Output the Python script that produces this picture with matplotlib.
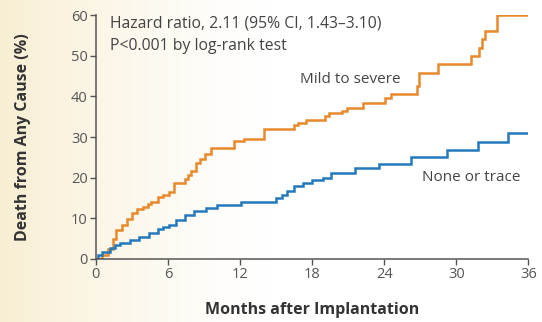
import numpy as np
import matplotlib
matplotlib.use("Agg")
from matplotlib import pyplot as plt

# Kaplan-Meier style cumulative death (%)
months_severe = [0, 0.5, 1.0, 1.4, 1.7, 2.2, 2.6, 3.0, 3.4, 3.9, 4.3, 4.6, 5.2, 5.6, 6.05, 6.5,
                 7.4, 7.7, 7.95, 8.35, 8.7, 9.05, 9.6, 11.5, 12.3, 14.0, 16.5, 16.8, 17.5,
                 19.1, 19.4, 20.5, 20.9, 22.2, 24.1, 24.6, 26.7, 26.9, 28.5, 31.2, 31.9,
                 32.1, 32.4, 33.4]
death_severe = [0, 1.0, 2.5, 5.0, 7.2, 8.4, 9.8, 11.3, 12.2, 12.8, 13.6, 14.1, 15.3, 15.7,
                16.5, 18.7, 19.6, 20.6, 21.6, 23.7, 24.6, 25.7, 27.4, 29.0, 29.4, 31.9,
                33.0, 33.5, 34.3, 35.1, 36.0, 36.4, 37.2, 38.4, 39.7, 40.7, 42.5, 45.8,
                47.9, 50.0, 52.0, 54.1, 56.1, 60.0]

months_none = [0, 0.2, 0.5, 1.15, 1.6, 2.0, 2.8, 3.6, 4.4, 5.2, 5.6, 6.05, 6.7, 7.4, 8.2,
               9.2, 10.1, 12.1, 15.0, 15.5, 15.9, 16.5, 17.2, 18.0, 18.9, 19.6, 21.6,
               23.6, 26.2, 29.2, 31.8, 34.3]
death_none = [0, 1.0, 1.8, 2.7, 3.3, 3.9, 4.7, 5.5, 6.3, 7.3, 7.8, 8.4, 9.6, 10.9, 11.7,
              12.6, 13.3, 13.9, 15.0, 15.8, 16.6, 17.9, 18.7, 19.3, 19.9, 21.2, 22.4,
              23.4, 25.1, 26.7, 28.8, 31.0]

xticks = [0, 6, 12, 18, 24, 30, 36]
yticks = [0, 10, 20, 30, 40, 50, 60]

orange = "#E8892B"
blue = "#2479BD"
txt = "#444444"

plt.rcParams['font.family'] = ['Open Sans', 'DejaVu Sans']

fig = plt.figure(figsize=(5.42, 3.22), dpi=100)

# faint tinted backdrop on the left like the source
bg = fig.add_axes([0, 0, 1, 1], zorder=-1)
grad = np.linspace(0, 1, 256)
fade = np.clip(1 - grad / 0.5, 0, 1) ** 1.3
rgb = np.ones((1, 256, 3))
tint = np.array([0.975, 0.935, 0.83])
rgb[0] = 1 - fade[:, None] * (1 - tint)
bg.imshow(rgb, aspect='auto', extent=[0, 1, 0, 1])
bg.axis('off')

ax = fig.add_axes([0.177, 0.196, 0.798, 0.757])
ax.patch.set_alpha(0)

ax.step(months_severe + [36], death_severe + [death_severe[-1]], where='post',
        color=orange, lw=1.8, solid_joinstyle='miter')
ax.step(months_none + [36], death_none + [death_none[-1]], where='post',
        color=blue, lw=1.8, solid_joinstyle='miter')

ax.set_xlim(0, 36)
ax.set_ylim(0, 60)
ax.set_xticks(xticks)
ax.set_yticks(yticks)
ax.tick_params(direction='out', length=4, width=1, colors='#555555', labelsize=10.5, pad=2)
for s in ['top', 'right']:
    ax.spines[s].set_visible(False)
for s in ['left', 'bottom']:
    ax.spines[s].set_color('#555555')
    ax.spines[s].set_linewidth(1.1)

ax.set_xlabel("Months after Implantation", fontsize=11.5, fontweight='bold', color='#333333')
ax.set_ylabel("Death from Any Cause (%)", fontsize=11.5, fontweight='bold', color='#333333')
ax.xaxis.set_label_coords(0.5, -0.175)
ax.yaxis.set_label_coords(-0.15, 0.5)

ax.text(1.2, 59.8, "Hazard ratio, 2.11 (95% CI, 1.43\u20133.10)\nP<0.001 by log-rank test",
        fontsize=11.3, color=txt, va='top', ha='left', linespacing=1.5)
ax.text(21.2, 44.2, "Mild to severe", fontsize=11, color=txt, ha='center', va='center')
ax.text(31.2, 20.0, "None or trace", fontsize=11, color=txt, ha='center', va='center')

fig.savefig("out.png", dpi=100)
